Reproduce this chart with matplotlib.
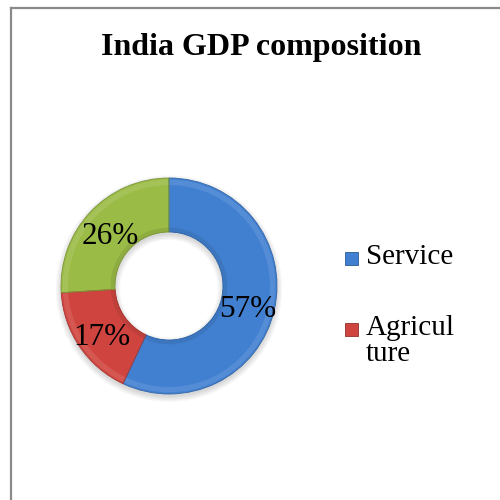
import matplotlib
matplotlib.use("Agg")
import matplotlib.pyplot as plt
from matplotlib.patches import Wedge, Rectangle
from matplotlib.lines import Line2D
from matplotlib.colors import to_rgb
import numpy as np

title = "India GDP composition"
sectors = ["Service", "Agriculture", "Industry"]
shares = [57, 17, 26]
legend_labels = ["Service", "Agricul\nture"]
colors = ["#4180d0", "#d0443f", "#9bbb47"]

plt.rcParams['font.family'] = ['Liberation Serif', 'DejaVu Serif']

fig = plt.figure(figsize=(5, 5), dpi=100)
fig.patch.set_facecolor("white")

# frame lines on the left and top edge
fig.add_artist(Line2D([11/500, 11/500], [0, 1 - 8/500], color="#8a8a8a", lw=1.6))
fig.add_artist(Line2D([11/500, 1], [1 - 8/500, 1 - 8/500], color="#8a8a8a", lw=1.6))

fig.text(0.523, 0.906, title, ha="center", va="center", fontsize=23, fontweight="bold")

# donut axes, centre (169, 286) px, radius 108 px
cx, cy, r = 169, 286, 108
ax = fig.add_axes([(cx - r) / 500, (500 - cy - r) / 500, 2 * r / 500, 2 * r / 500])
ax.set_aspect("equal")
ax.axis("off")

# soft shadow under the ring
for k in range(5):
    ax.add_patch(Wedge((0, -0.025), 1.0 + 0.012 * k, 0, 360, width=0.5 + 0.024 * k,
                       facecolor="#000000", alpha=0.03, lw=0, zorder=0, clip_on=False))

wedges, texts, autotexts = ax.pie(shares, colors=colors, startangle=90, counterclock=False,
                                  radius=1.0, autopct="%1.0f%%", pctdistance=0.75,
                                  wedgeprops=dict(width=0.5, edgecolor="none"),
                                  textprops=dict(fontsize=22.5, color="black"))
ax.set_xlim(-1.0, 1.0)
ax.set_ylim(-1.0, 1.0)


def shade(c, f):
    c = np.array(to_rgb(c))
    if f > 0:
        return tuple(c + (1 - c) * f)
    return tuple(c * (1 + f))


# bevel bands on each slice
for w, c in zip(wedges, colors):
    w.set_clip_on(False)
    t1, t2 = w.theta1, w.theta2
    ax.add_patch(Wedge((0, 0), 0.985, t1, t2, width=0.05, facecolor=shade(c, 0.1),
                       lw=0, zorder=2, clip_on=False))
    ax.add_patch(Wedge((0, 0), 0.54, t1, t2, width=0.04, facecolor=shade(c, -0.08),
                       lw=0, zorder=2, clip_on=False))
    ax.add_patch(Wedge((0, 0), 1.0, t1, t2, width=0.5, facecolor="none",
                       edgecolor=shade(c, -0.2), lw=0.6, zorder=3, clip_on=False))

# percentages sit a little below the ring's mid-line
for t in autotexts:
    x, y = t.get_position()
    t.set_position((x, y - 0.055))
    t.set_zorder(5)

# legend entries
leg_rows = [(259, 0), (330, 1)]
for y, i in leg_rows:
    fig.add_artist(Rectangle((345/500, 1 - (y + 6)/500), 13/500, 13/500,
                             facecolor=colors[i], edgecolor=shade(colors[i], -0.3), lw=0.6,
                             transform=fig.transFigure))
    fig.text(366/500, 1 - (y - 15)/500, legend_labels[i], ha="left", va="top",
             fontsize=21, linespacing=1.0)

fig.savefig("out.png", dpi=100, facecolor="white")
